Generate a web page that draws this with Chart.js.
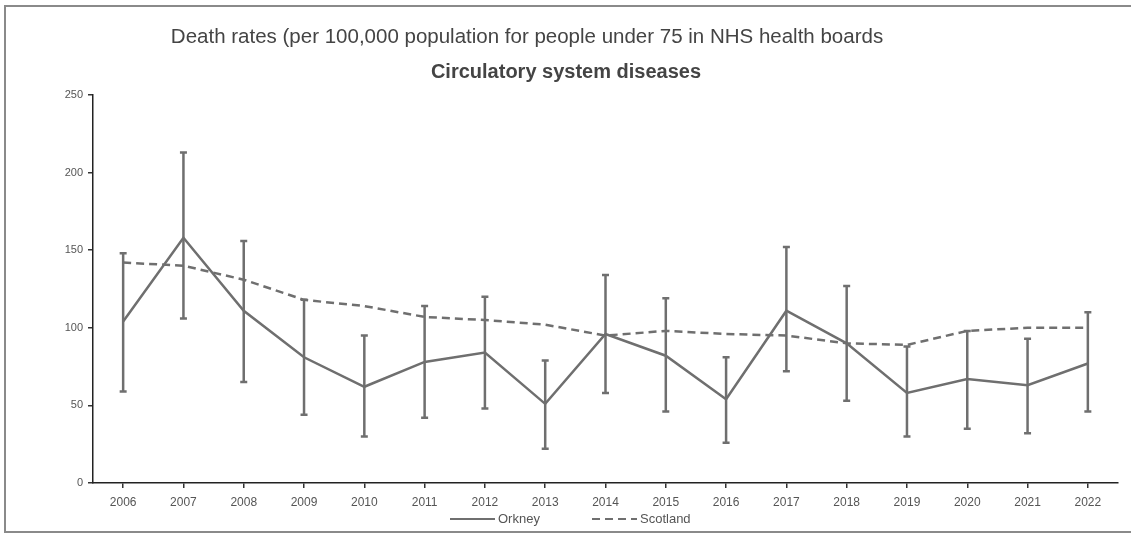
<!DOCTYPE html>
<html>
<head>
<meta charset="utf-8">
<script src="https://cdn.jsdelivr.net/npm/chart.js@4"></script>
<style>
  html, body { margin: 0; padding: 0; background: #fff; }
  #wrap { position: relative; width: 1131px; height: 535px; overflow: hidden; }
  #frame { position: absolute; left: 4px; top: 5px; width: 1140px; height: 524px; border: 2px solid #8a8a8a; pointer-events: none; }
  canvas { position: absolute; left: 0; top: 0; }
</style>
</head>
<body>
<div id="wrap">
  <canvas id="c" width="1131" height="535"></canvas>
  <div id="frame"></div>
</div>
<script>
var years = ["2006", "2007", "2008", "2009", "2010", "2011", "2012", "2013", "2014",
  "2015", "2016", "2017", "2018", "2019", "2020", "2021", "2022"];
var orkney = [104, 158, 111, 81, 62, 78, 84, 51, 96, 82, 54, 111, 90, 58, 67, 63, 77];
var orkneyLow = [59, 106, 65, 44, 30, 42, 48, 22, 58, 46, 26, 72, 53, 30, 35, 32, 46];
var orkneyHigh = [148, 213, 156, 118, 95, 114, 120, 79, 134, 119, 81, 152, 127, 88, 98, 93, 110];
var scotland = [142, 140, 131, 118, 114, 107, 105, 102, 95, 98, 96, 95, 90, 89, 98, 100, 100];
var yTicks = [0, 50, 100, 150, 200, 250];

var lineGrey = "#6f6f6f";
var textGrey = "#555";
var fontFamily = "'Liberation Sans', Arial, sans-serif";

// error bars for Orkney, drawn through the chart scales
var errorBars = {
  id: "errorBars",
  afterDatasetsDraw: function (chart) {
    var ctx = chart.ctx;
    var x = chart.scales.x, y = chart.scales.y;
    ctx.save();
    ctx.strokeStyle = lineGrey;
    ctx.lineWidth = 2.5;
    for (var i = 0; i < years.length; i++) {
      var px = x.getPixelForValue(i);
      var lo = y.getPixelForValue(orkneyLow[i]);
      var hi = y.getPixelForValue(orkneyHigh[i]);
      ctx.beginPath();
      ctx.moveTo(px, lo); ctx.lineTo(px, hi);
      ctx.moveTo(px - 3.5, lo); ctx.lineTo(px + 3.5, lo);
      ctx.moveTo(px - 3.5, hi); ctx.lineTo(px + 3.5, hi);
      ctx.stroke();
    }
    ctx.restore();
  }
};

// titles and legend, drawn by hand so the dashed sample shows
var decorations = {
  id: "decorations",
  afterDraw: function (chart) {
    var ctx = chart.ctx;
    ctx.save();
    ctx.fillStyle = "#444";
    ctx.textAlign = "center";
    ctx.textBaseline = "middle";
    ctx.font = "20.5px " + fontFamily;
    ctx.fillText("Death rates (per 100,000 population for people under 75 in NHS health boards", 527, 37);
    ctx.font = "bold 20px " + fontFamily;
    ctx.fillText("Circulatory system diseases", 566, 72);

    var ly = 519;
    var starts = [450, 592];
    ctx.font = "13px " + fontFamily;
    ctx.textAlign = "left";
    ctx.fillStyle = textGrey;
    chart.data.datasets.forEach(function (ds, i) {
      var sx = starts[i];
      ctx.strokeStyle = ds.borderColor;
      ctx.lineWidth = 2;
      ctx.setLineDash(ds.borderDash || []);
      ctx.beginPath();
      ctx.moveTo(sx, ly); ctx.lineTo(sx + 45, ly);
      ctx.stroke();
      ctx.fillText(ds.label, sx + 48, ly);
    });
    ctx.restore();
  }
};

new Chart(document.getElementById("c").getContext("2d"), {
  type: "line",
  data: {
    labels: years,
    datasets: [
      {
        label: "Orkney",
        data: orkney,
        borderColor: lineGrey,
        backgroundColor: lineGrey,
        borderWidth: 2.5,
        pointRadius: 0,
        tension: 0,
      },
      {
        label: "Scotland",
        data: scotland,
        borderColor: lineGrey,
        backgroundColor: lineGrey,
        borderWidth: 2.5,
        borderDash: [8, 5],
        pointRadius: 0,
        tension: 0,
      },
    ],
  },
  options: {
    responsive: false,
    animation: false,
    layout: { padding: { top: 95, right: 13, bottom: 27, left: 0 } },
    scales: {
      x: {
        offset: true,
        grid: { display: true, drawOnChartArea: false, tickLength: 5, color: "#333", lineWidth: 1.5 },
        border: { display: true, color: "#222", width: 1.5 },
        ticks: { color: textGrey, font: { family: fontFamily, size: 12 }, padding: 7, maxRotation: 0 },
        afterFit: function (scale) { scale.height = 25; },
      },
      y: {
        min: 0,
        max: 250,
        afterBuildTicks: function (scale) {
          scale.ticks = yTicks.map(function (v) { return { value: v }; });
        },
        grid: { display: true, drawOnChartArea: false, tickLength: 5, color: "#333", lineWidth: 1.5 },
        border: { display: true, color: "#222", width: 1.5 },
        ticks: { color: textGrey, font: { family: fontFamily, size: 11 }, padding: 5 },
        afterFit: function (scale) { scale.width = 93; },
      },
    },
    plugins: {
      legend: { display: false },
      tooltip: { enabled: false },
    },
  },
  plugins: [errorBars, decorations],
});
</script>
</body>
</html>
